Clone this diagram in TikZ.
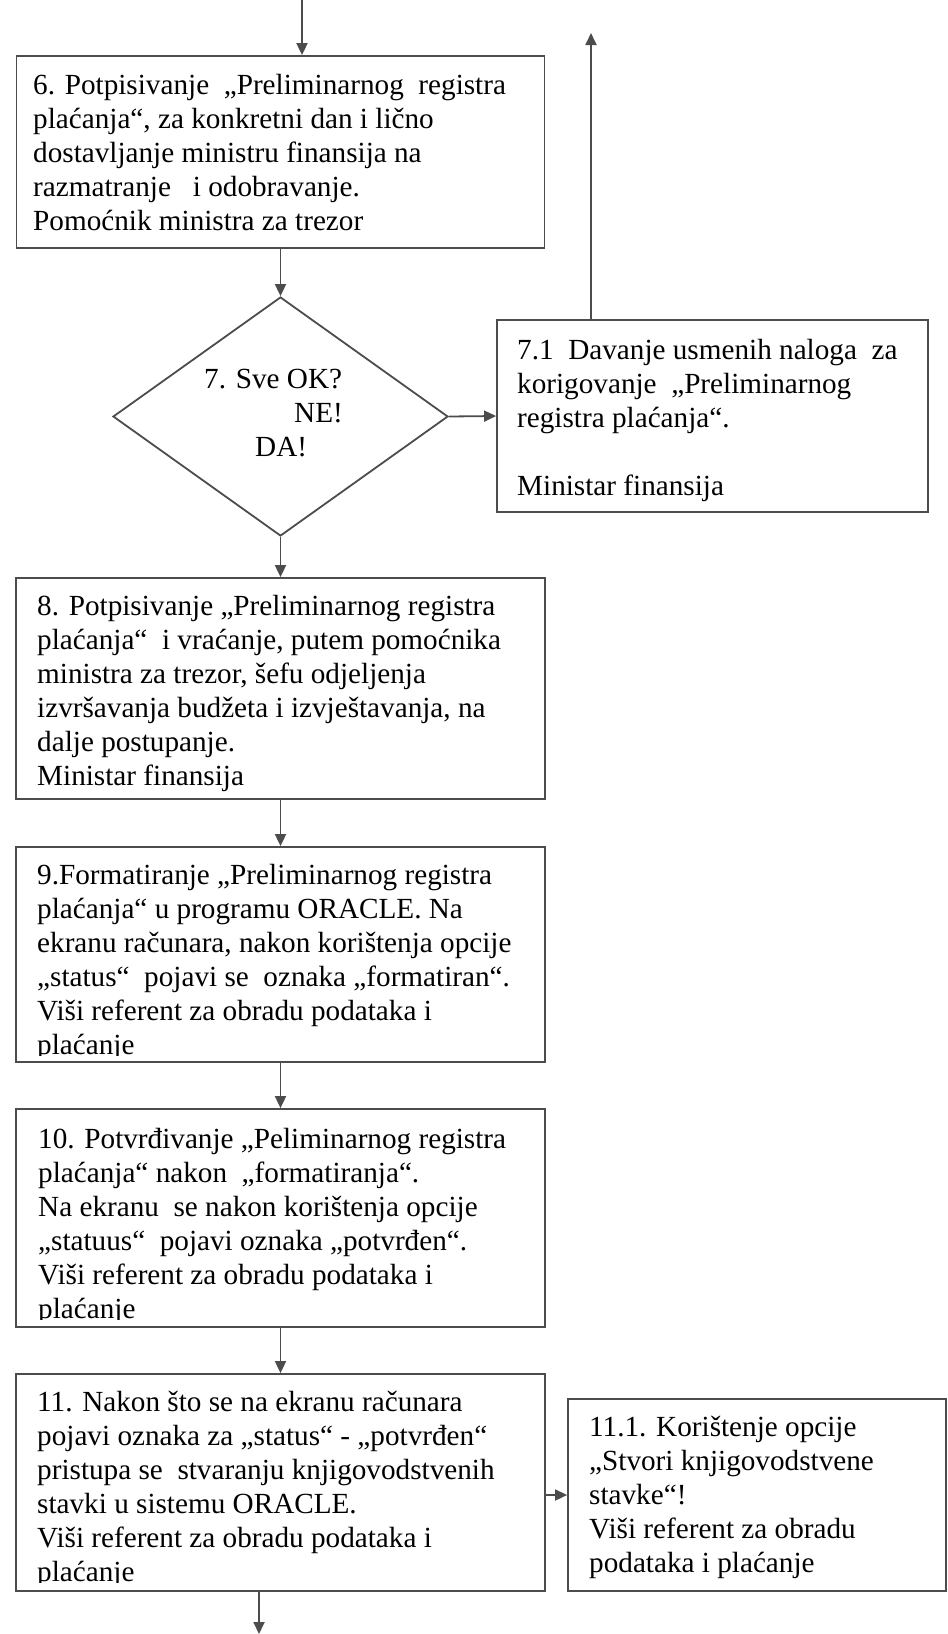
\documentclass[tikz,border=0pt]{standalone}
\usepackage{fontspec}
\setmainfont{Liberation Serif}
\usetikzlibrary{positioning,shapes.geometric,arrows.meta}

\begin{document}
\begin{tikzpicture}[x=1pt,y=-1pt]
  % 样式
  \tikzset{box/.style = {draw=black!70, line width=1.8pt, inner sep=0pt}}
  \tikzset{txt/.style = {anchor=base west, inner sep=0pt, align=left, font=\fontsize{29.2}{34}\selectfont}}
  \tikzset{arr/.style = {draw=black!70, line width=1.8pt, -{Triangle[length=12pt,width=11pt]}}}

  \useasboundingbox (0,0) rectangle (948,1634);

  % 方框
  \node[box, minimum width=528pt, minimum height=192pt] (b6) at (280.5,152) {};
  \node[box, diamond, minimum width=335pt, minimum height=239pt] (d7) at (280.5,416.5) {};
  \node[box, minimum width=431pt, minimum height=192pt] (b71) at (712.5,416) {};
  \node[box, minimum width=529pt, minimum height=221pt] (b8) at (280.5,688.5) {};
  \node[box, minimum width=529pt, minimum height=215pt] (b9) at (280.5,954.5) {};
  \node[box, minimum width=529pt, minimum height=218pt] (b10) at (280.5,1218) {};
  \node[box, minimum width=529pt, minimum height=217pt] (b11) at (280.5,1482.5) {};
  \node[box, minimum width=378pt, minimum height=192pt] (b111) at (757,1495) {};

  % 文字 (base = zadnji red)
  \node[txt] (t6) at (33,230) {6. Potpisivanje~ „Preliminarnog~ registra\\plaćanja“, za konkretni dan i lično\\dostavljanje ministru finansija na\\razmatranje~~ i odobravanje.\\Pomoćnik ministra za trezor};
  \node[txt] (t7) at (204,456) {7. Sve OK?\\\hspace*{90pt}NE!\\\hspace*{51pt}DA!};
  \node[txt] (t71) at (517,495) {7.1~ Davanje usmenih naloga~ za\\korigovanje~ „Preliminarnog\\registra plaćanja“.\\[34pt]Ministar finansija};
  \node[txt] (t8) at (37,785) {8. Potpisivanje „Preliminarnog registra\\plaćanja“~ i vraćanje, putem pomoćnika\\ministra za trezor, šefu odjeljenja\\izvršavanja budžeta i izvještavanja, na\\dalje postupanje.\\Ministar finansija};

  % 9, 10, 11: zadnji red odsječen
  \begin{scope}
    \clip (b9.north west) rectangle ([yshift=7pt]b9.south east);
    \node[txt] (t9) at (37,1054) {9.Formatiranje „Preliminarnog registra\\plaćanja“ u programu ORACLE. Na\\ekranu računara, nakon korištenja opcije\\„status“~ pojavi se~ oznaka „formatiran“.\\Viši referent za obradu podataka i\\plaćanje};
  \end{scope}
  \begin{scope}
    \clip (b10.north west) rectangle ([yshift=8pt]b10.south east);
    \node[txt] (t10) at (38,1318) {10. Potvrđivanje „Peliminarnog registra\\plaćanja“ nakon~ „formatiranja“.\\Na ekranu~ se nakon korištenja opcije\\„statuus“~ pojavi oznaka „potvrđen“.\\Viši referent za obradu podataka i\\plaćanje};
  \end{scope}
  \begin{scope}
    \clip (b11.north west) rectangle ([yshift=9pt]b11.south east);
    \node[txt] (t11) at (37,1581) {11. Nakon što se na ekranu računara\\pojavi oznaka za „status“ - „potvrđen“\\pristupa se~ stvaranju knjigovodstvenih\\stavki u sistemu ORACLE.\\Viši referent za obradu podataka i\\plaćanje};
  \end{scope}
  \node[txt] (t111) at (589,1572) {11.1. Korištenje opcije\\„Stvori knjigovodstvene\\stavke“!\\Viši referent za obradu\\podataka i plaćanje};

  % 箭头
  \coordinate (start) at (302,0);
  \coordinate (back) at (591,33);
  \coordinate (out) at (259,1634);
  \draw[arr] (start) -- (start |- b6.north);
  \draw[arr] (b6.south) -- (d7.north);
  \draw[arr] (d7.east) -- (b71.west);
  \draw[arr] (b71.north -| back) -- (back);
  \draw[arr] (d7.south) -- (b8.north);
  \draw[arr] (b8.south) -- (b9.north);
  \draw[arr] (b9.south) -- (b10.north);
  \draw[arr] (b10.south) -- (b11.north);
  \draw[arr] (b111.west -| b11.east) -- (b111.west);
  \draw[arr] (out |- b11.south) -- (out);
\end{tikzpicture}
\end{document}
